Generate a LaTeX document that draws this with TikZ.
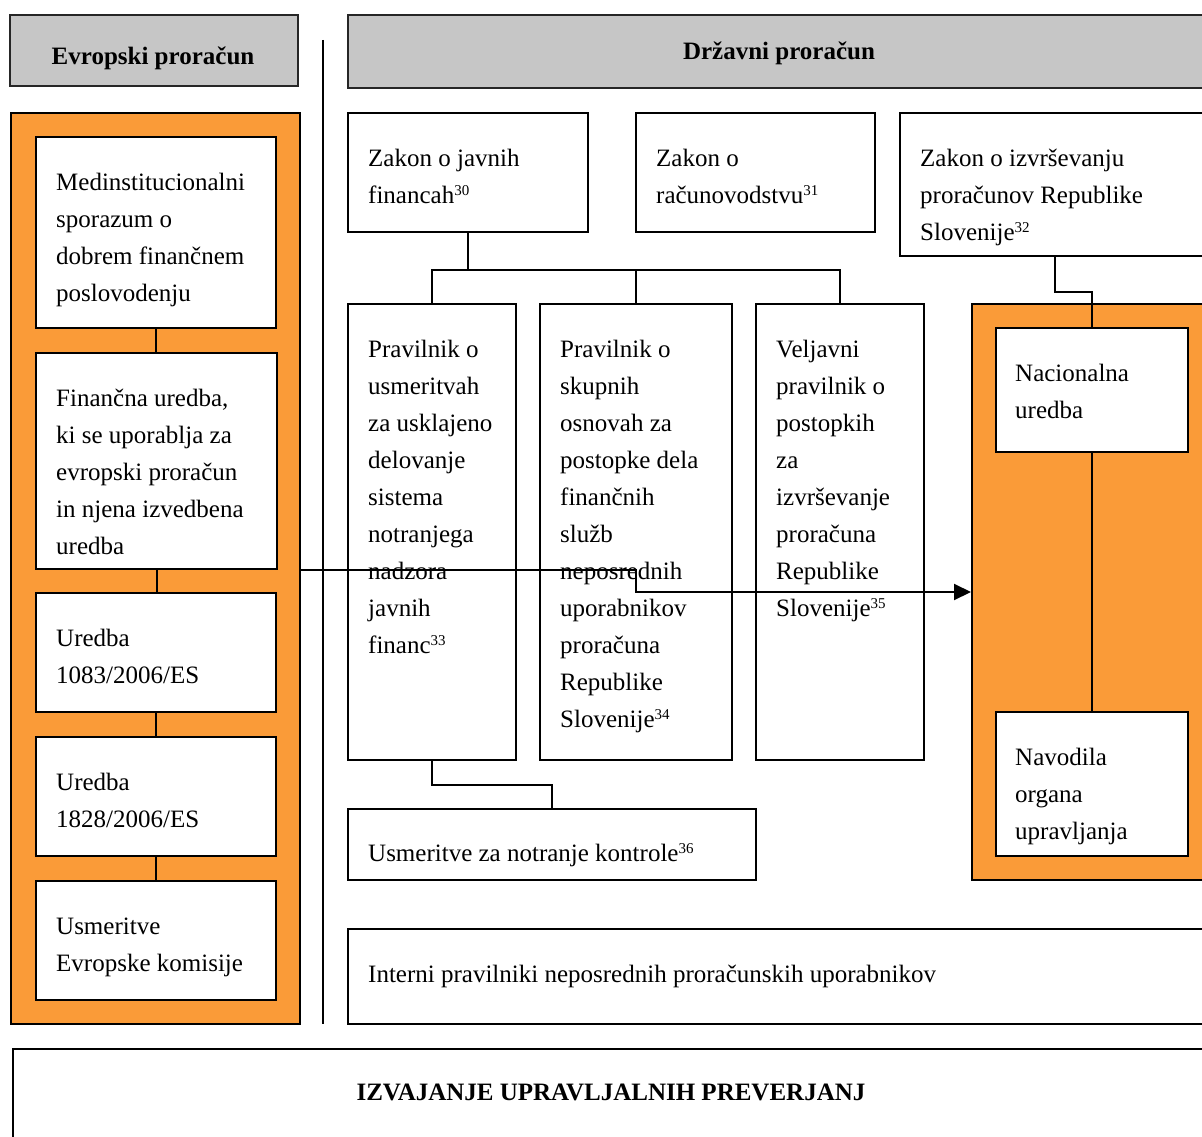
\documentclass[tikz,border=0pt]{standalone}
\usepackage{fontspec}
\setmainfont{Liberation Serif}
\usetikzlibrary{arrows.meta}
\definecolor{panelorange}{RGB}{250,155,56}
\definecolor{headgrey}{RGB}{198,198,198}
\tikzset{
  bx/.style={draw=black, line width=2pt, fill=white, anchor=north west, inner sep=0pt},
  panel/.style={draw=black, line width=2pt, fill=panelorange, anchor=north west, inner sep=0pt},
  head/.style={draw=black!85, line width=2.2pt, fill=headgrey, anchor=north west, inner sep=0pt},
  txt/.style={anchor=north west, align=left, inner sep=0pt, font=\fontsize{25}{37}\selectfont},
  headtxt/.style={anchor=base, inner sep=0pt, font=\fontsize{25}{30}\selectfont\bfseries},
  conn/.style={draw=black, line width=2pt},
  arr/.style={draw=black, line width=2pt, -{Triangle[length=17pt,width=16pt]}},
}
% the strut fixes the first baseline 25.9pt below the top of each text block
\newcommand{\firstline}{\strut}
% footnote reference number
\newcommand{\fnref}[1]{\raisebox{8pt}{\fontsize{15}{15}\selectfont #1}}
\begin{document}
\begin{tikzpicture}[x=1pt,y=-1pt]
\clip (0,0) rectangle (1202,1137);
\fill[white] (0,0) rectangle (1202,1137);

% column headers and separator
\node[head, minimum width=288pt, minimum height=71pt] (hEU) at (9,14) {};
\node[headtxt] (hEUt) at (153,65) {Evropski proračun};
\node[head, minimum width=870pt, minimum height=73pt] (hSI) at (347,14) {};
\node[headtxt] (hSIt) at (779,60) {Državni proračun};
\coordinate (sepT) at (323,40);
\coordinate (sepB) at (323,1024);
\draw[conn] (sepT) -- (sepB);

% European budget stack
\node[panel, minimum width=289pt, minimum height=911pt] (eu) at (10,112) {};
\node[bx, minimum width=240pt, minimum height=191pt] (b1) at (35,136) {};
\node[bx, minimum width=241pt, minimum height=216pt] (b2) at (35,352) {};
\node[bx, minimum width=240pt, minimum height=119pt] (b3) at (35,592) {};
\node[bx, minimum width=240pt, minimum height=119pt] (b4) at (35,736) {};
\node[bx, minimum width=240pt, minimum height=119pt] (b5) at (35,880) {};
\node[txt] (b1t) at ([shift={(21,28)}]b1.north west) {\firstline Medinstitucionalni\\sporazum o\\dobrem finančnem\\poslovodenju};
\node[txt] (b2t) at ([shift={(21,28)}]b2.north west) {\firstline Finančna uredba,\\ki se uporablja za\\evropski proračun\\in njena izvedbena\\uredba};
\node[txt] (b3t) at ([shift={(21,28)}]b3.north west) {\firstline Uredba\\1083/2006/ES};
\node[txt] (b4t) at ([shift={(21,28)}]b4.north west) {\firstline Uredba\\1828/2006/ES};
\node[txt] (b5t) at ([shift={(21,28)}]b5.north west) {\firstline Usmeritve\\Evropske komisije};
\draw[conn] (b1.south) -- (b1.south |- b2.north);
\draw[conn] (b2.south) -- (b2.south |- b3.north);
\draw[conn] (b3.south) -- (b4.north);
\draw[conn] (b4.south) -- (b5.north);

% national laws
\node[bx, minimum width=240pt, minimum height=119pt] (z1) at (347,112) {};
\node[bx, minimum width=239pt, minimum height=119pt] (z2) at (635,112) {};
\node[bx, minimum width=320pt, minimum height=143pt] (z3) at (899,112) {};
\node[txt] (z1t) at ([shift={(21,28)}]z1.north west) {\firstline Zakon o javnih\\financah\fnref{30}};
\node[txt] (z2t) at ([shift={(21,28)}]z2.north west) {\firstline Zakon o\\računovodstvu\fnref{31}};
\node[txt] (z3t) at ([shift={(21,28)}]z3.north west) {\firstline Zakon o izvrševanju\\proračunov Republike\\Slovenije\fnref{32}};

% rules
\node[bx, minimum width=168pt, minimum height=456pt] (p1) at (347,303) {};
\node[bx, minimum width=192pt, minimum height=456pt] (p2) at (539,303) {};
\node[bx, minimum width=168pt, minimum height=456pt] (p3) at (755,303) {};
\node[txt] (p1t) at ([shift={(21,28)}]p1.north west) {\firstline Pravilnik o\\usmeritvah\\za usklajeno\\delovanje\\sistema\\notranjega\\nadzora\\javnih\\financ\fnref{33}};
\node[txt] (p2t) at ([shift={(21,28)}]p2.north west) {\firstline Pravilnik o\\skupnih\\osnovah za\\postopke dela\\finančnih\\služb\\neposrednih\\uporabnikov\\proračuna\\Republike\\Slovenije\fnref{34}};
\node[txt] (p3t) at ([shift={(21,28)}]p3.north west) {\firstline Veljavni\\pravilnik o\\postopkih\\za\\izvrševanje\\proračuna\\Republike\\Slovenije\fnref{35}};

% national regulation panel
\node[panel, minimum width=250pt, minimum height=576pt] (nat) at (971,303) {};
\node[bx, minimum width=192pt, minimum height=124pt] (n1) at (995,327) {};
\node[bx, minimum width=192pt, minimum height=144pt] (n2) at (995,711) {};
\node[txt] (n1t) at ([shift={(20,28)}]n1.north west) {\firstline Nacionalna\\uredba};
\node[txt] (n2t) at ([shift={(20,28)}]n2.north west) {\firstline Navodila\\organa\\upravljanja};
\draw[conn] (n1.south) -- (n2.north);

% guidelines and internal rules
\node[bx, minimum width=408pt, minimum height=71pt] (u) at (347,808) {};
\node[txt] (ut) at ([shift={(21,27)}]u.north west) {\firstline Usmeritve za notranje kontrole\fnref{36}};
\node[bx, minimum width=870pt, minimum height=95pt] (ip) at (347,928) {};
\node[txt] (ipt) at ([shift={(21,28)}]ip.north west) {\firstline Interni pravilniki neposrednih proračunskih uporabnikov};

% management verifications
\node[bx, minimum width=1210pt, minimum height=120pt] (iz) at (12,1048) {};
\node[headtxt] (izt) at (611,1100) {IZVAJANJE UPRAVLJALNIH PREVERJANJ};

% connectors
\coordinate (bar) at ([yshift=-37pt]z1.south);
\draw[conn] (z1.south) -- (bar);
\draw[conn] (p1.north) |- (bar) -| (p3.north);
\draw[conn] (p2.north) -- (p2.north |- bar);
\coordinate (z3o) at (1055,255);
\draw[conn] (z3o) -- ++(0,37) -| (n1.north);
\draw[conn] (p1.south) -- ++(0,24) -| (u.north);

% link from the European stack to the national regulation
\coordinate (aS) at (eu.east |- b2.south);
\draw[arr] (aS) -- (p2.south |- b2.south) -- (p2.south |- b3.north) -- (nat.west |- b3.north);
\end{tikzpicture}
\end{document}
